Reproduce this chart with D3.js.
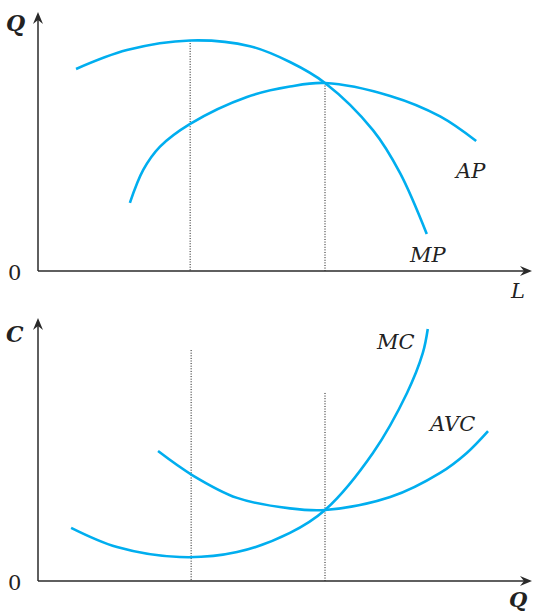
<!DOCTYPE html>
<html>
<head>
<meta charset="utf-8">
<script src="https://cdn.jsdelivr.net/npm/d3@7.9.0/dist/d3.min.js"></script>
<style>
  html, body { margin: 0; padding: 0; background: #fff; }
  svg { display: block; }
  .lbl { font-family: "DejaVu Serif", serif; font-style: italic; fill: #222; }
  .zero { font-family: "DejaVu Serif", serif; fill: #222; }
</style>
</head>
<body>
<svg id="chart" width="534" height="611"></svg>
<script>
// ---- Data (abstract units, 0..10 on each axis) ----
// top panel: product curves
const mpX = [0.77, 1.80, 3.08, 4.29, 5.10, 5.81, 6.78, 7.33, 7.87];
const mpY = [7.80, 8.53, 8.90, 8.68, 8.07, 7.26, 5.44, 3.78, 1.43];
const apX = [1.86, 2.13, 2.47, 3.08, 4.23, 5.10, 5.81, 7.13, 8.14, 8.87];
const apY = [2.63, 3.90, 4.80, 5.68, 6.72, 7.12, 7.26, 6.76, 5.97, 5.02];

// bottom panel: cost curves
const mcX = [0.67, 1.60, 2.87, 4.03, 5.10, 5.81, 6.78, 7.47, 7.79, 7.89];
const mcY = [2.02, 1.29, 0.91, 1.10, 1.83, 2.70, 4.87, 7.15, 8.67, 9.58];
const avcX = [2.43, 3.12, 4.03, 5.10, 5.81, 7.13, 8.14, 8.68, 9.11];
const avcY = [4.94, 4.03, 3.16, 2.76, 2.70, 3.19, 4.11, 4.87, 5.70];

// guide lines: [x, top y]
const topGuides = [[3.08, 8.90], [5.81, 7.26]];
const bottomGuides = [[3.10, 8.78], [5.81, 7.15]];

const zip = (xs, ys) => xs.map((x, i) => [x, ys[i]]);

// ---- Scales ----
const x = d3.scaleLinear().domain([0, 10]).range([38, 532]);
const yTop = d3.scaleLinear().domain([0, 10]).range([271, 12]);
const yBot = d3.scaleLinear().domain([0, 10]).range([581, 318]);

const svg = d3.select('#chart');
const blue = '#00aeef';
const ink = '#2a2a2a';

// arrowhead pointing in direction (dx, dy) with tip at (tx, ty)
function arrowHead(tx, ty, dx, dy) {
  const len = 12, half = 5, notch = 8;
  const px = -dy, py = dx;
  const p = [
    [tx, ty],
    [tx - dx * len + px * half, ty - dy * len + py * half],
    [tx - dx * notch, ty - dy * notch],
    [tx - dx * len - px * half, ty - dy * len - py * half]
  ];
  svg.append('path')
    .attr('d', 'M' + p.map(d => d.join(',')).join('L') + 'Z')
    .attr('fill', ink);
}

function panel(y, curves, guides, yLabel, xLabel, labels) {
  // guides
  guides.forEach(([gx, gy]) => {
    svg.append('line')
      .attr('x1', x(gx)).attr('x2', x(gx))
      .attr('y1', y(gy)).attr('y2', y(0))
      .attr('stroke', '#111')
      .attr('stroke-width', 1)
      .attr('stroke-dasharray', '1,1.6');
  });

  // axes
  svg.append('line')
    .attr('x1', x(0)).attr('x2', x(0))
    .attr('y1', y(0)).attr('y2', y(10) + 8)
    .attr('stroke', ink).attr('stroke-width', 1.5);
  svg.append('line')
    .attr('x1', x(0)).attr('x2', x(10) - 8)
    .attr('y1', y(0)).attr('y2', y(0))
    .attr('stroke', ink).attr('stroke-width', 1.5);
  arrowHead(x(0), y(10), 0, -1);
  arrowHead(x(10), y(0), 1, 0);

  // curves
  const line = d3.line()
    .x(d => x(d[0]))
    .y(d => y(d[1]))
    .curve(d3.curveCatmullRom.alpha(0.5));
  curves.forEach(c => {
    svg.append('path')
      .attr('d', line(c))
      .attr('fill', 'none')
      .attr('stroke', blue)
      .attr('stroke-width', 2.6);
  });

  // axis labels
  svg.append('text').attr('class', 'lbl')
    .attr('x', 6).attr('y', yLabel.y)
    .attr('font-size', 22).attr('font-weight', 'bold')
    .text(yLabel.text);
  svg.append('text').attr('class', 'zero')
    .attr('x', 8).attr('y', y(0) + 9)
    .attr('font-size', 21)
    .text('0');
  svg.append('text').attr('class', 'lbl')
    .attr('x', xLabel.x).attr('y', xLabel.y)
    .attr('font-size', 21).attr('font-weight', xLabel.bold ? 'bold' : 'normal')
    .text(xLabel.text);

  // curve labels
  labels.forEach(l => {
    svg.append('text').attr('class', 'lbl')
      .attr('x', l.x).attr('y', l.y)
      .attr('font-size', 21)
      .text(l.text);
  });
}

panel(yTop, [zip(mpX, mpY), zip(apX, apY)], topGuides,
  { text: 'Q', y: 31 },
  { text: 'L', x: 511, y: 298 },
  [{ text: 'MP', x: 410, y: 262 }, { text: 'AP', x: 456, y: 178 }]);

panel(yBot, [zip(mcX, mcY), zip(avcX, avcY)], bottomGuides,
  { text: 'C', y: 342 },
  { text: 'Q', x: 509, y: 607, bold: true },
  [{ text: 'MC', x: 377, y: 349 }, { text: 'AVC', x: 430, y: 431 }]);
</script>
</body>
</html>
